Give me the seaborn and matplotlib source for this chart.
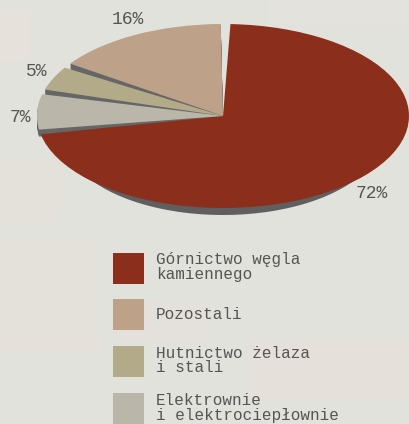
import seaborn as sns
import matplotlib.pyplot as plt
from matplotlib.patches import Rectangle

categories = ["Górnictwo węgla\nkamiennego", "Pozostali", "Hutnictwo żelaza\ni stali", "Elektrownie\ni elektrociepłownie"]
shares = [72, 16, 5, 7]
share_labels = ["72%", "16%", "5%", "7%"]
slice_colors = ["#8b2e1c", "#bda188", "#b3aa8a", "#bab6aa"]

W, H = 409, 424
CX, CY = 223, 116
RX, RY = 186, 92
GAP = 1.5
DEPTH = 7


def trim(wedges):
    # slices keep a common apex, only the angles get narrower
    for w in wedges:
        w.set_theta1(w.theta1 + GAP)
        w.set_theta2(w.theta2 - GAP)


def main():
    sns.set_theme(style="white")
    plt.rcParams["font.family"] = ["Liberation Mono", "DejaVu Sans"]

    fig = plt.figure(figsize=(W / 100, H / 100), dpi=100, facecolor="#e1e2dc")
    ax = fig.add_axes([0, 0, 1, 1])

    # faint paper texture
    for x, y, w, h, c in [(0, 10, 30, 50, "#e6e1da"), (0, 160, 60, 60, "#e4e1da"), (270, 0, 139, 25, "#e4e2dc"),
                          (0, 240, 100, 110, "#e4e0da"), (250, 340, 159, 60, "#e5e1da"), (120, 300, 90, 40, "#e4e1dc")]:
        fig.add_artist(Rectangle((x / W, 1 - (y + h) / H), w / W, h / H, transform=fig.transFigure, color=c, lw=0, zorder=-1))

    # side of the small slices: grey copies stepped downwards
    for d in range(DEPTH, 0, -1):
        side, _ = ax.pie(shares, colors=["#666666"] * 4, startangle=190, center=(0, -d / RY), wedgeprops={"linewidth": 0})
        trim(side)
        side[0].set_visible(False)

    # side of the big slice only shows along the front, so it is a smaller pie set lower
    front, _ = ax.pie(shares, colors=["#5f5f5f"] * 4, startangle=190, radius=0.85, center=(0, -0.15 - DEPTH / RY),
                      wedgeprops={"linewidth": 0})
    trim(front)
    for w in front[1:]:
        w.set_visible(False)

    top, _ = ax.pie(shares, colors=sns.color_palette(slice_colors), startangle=190, wedgeprops={"linewidth": 0})
    trim(top)

    ax.set_aspect("auto")
    ax.set_xlim(-CX / RX, (W - CX) / RX)
    ax.set_ylim(-(H - CY) / RY, CY / RY)
    ax.patch.set_alpha(0)

    label_xy = [(372, 194), (128, 20), (37, 72), (20, 118)]
    for txt, (px, py) in zip(share_labels, label_xy):
        ax.text((px - CX) / RX, (CY - py) / RY, txt, ha="center", va="center", fontsize=13, color="#555555")

    leg = ax.legend(top, categories, loc="upper left", bbox_to_anchor=(113 / W, 1 - 252 / H), bbox_transform=fig.transFigure,
                    frameon=False, fontsize=11.5, labelcolor="#555555", handlelength=1.94, handleheight=2.6,
                    labelspacing=0.98, handletextpad=0.75, borderpad=0, borderaxespad=0)
    for t in leg.get_texts():
        t.set_linespacing(0.98)

    fig.savefig("out.png", dpi=100, facecolor=fig.get_facecolor())


if __name__ == '__main__':
    main()
